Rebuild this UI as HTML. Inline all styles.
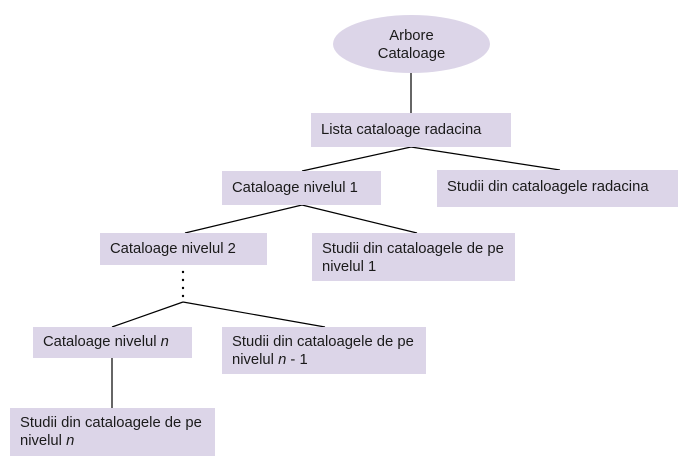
<!DOCTYPE html>
<html><head><style>
body{margin:0;width:692px;height:466px;background:#fff;position:relative;font-family:"Liberation Sans",Arial,sans-serif;font-size:14.8px;color:#1a1a1a;overflow:hidden}
.b{position:absolute;background:#dcd5e8;box-sizing:border-box;padding:8px 10px;line-height:18px;white-space:nowrap}
svg{position:absolute;left:0;top:0}
</style></head><body>
<svg width="692" height="466">
<ellipse cx="411.5" cy="44" rx="78.5" ry="29" fill="#dcd5e8"/>
<g stroke="#000" stroke-width="1.2" fill="none">
<line x1="411" y1="73" x2="411" y2="113"/>
<line x1="411" y1="147" x2="302" y2="171"/>
<line x1="411" y1="147" x2="560" y2="170"/>
<line x1="302" y1="205" x2="185" y2="233"/>
<line x1="302" y1="205" x2="417" y2="233"/>
<line x1="183" y1="302" x2="112" y2="327"/>
<line x1="183" y1="302" x2="325" y2="327"/>
<line x1="112" y1="358" x2="112" y2="408"/>
</g>
<g fill="#000"><circle cx="183" cy="272" r="1.2"/><circle cx="183" cy="280" r="1.2"/><circle cx="183" cy="288" r="1.2"/><circle cx="183" cy="296" r="1.2"/></g>
<text x="411.5" y="40" text-anchor="middle" font-family="Liberation Sans, Arial, sans-serif" font-size="14.8" fill="#1a1a1a">Arbore</text>
<text x="411.5" y="58" text-anchor="middle" font-family="Liberation Sans, Arial, sans-serif" font-size="14.8" fill="#1a1a1a">Cataloage</text>
</svg>
<div class="b" style="left:311px;top:113px;width:200px;height:34px">Lista cataloage radacina</div>
<div class="b" style="left:222px;top:171px;width:159px;height:34px">Cataloage nivelul 1</div>
<div class="b" style="left:437px;top:170px;width:241px;height:37px">Studii din cataloagele radacina</div>
<div class="b" style="left:100px;top:233px;width:167px;height:32px;padding-top:7px">Cataloage nivelul 2</div>
<div class="b" style="left:312px;top:233px;width:203px;height:48px;padding-top:7px">Studii din cataloagele de pe<br>nivelul 1</div>
<div class="b" style="left:33px;top:327px;width:159px;height:31px;padding-top:6px">Cataloage nivelul <i>n</i></div>
<div class="b" style="left:222px;top:327px;width:204px;height:47px;padding-top:6px">Studii din cataloagele de pe<br>nivelul <i>n</i> - 1</div>
<div class="b" style="left:10px;top:408px;width:205px;height:48px;padding-top:6px">Studii din cataloagele de pe<br>nivelul <i>n</i></div>
</body></html>
